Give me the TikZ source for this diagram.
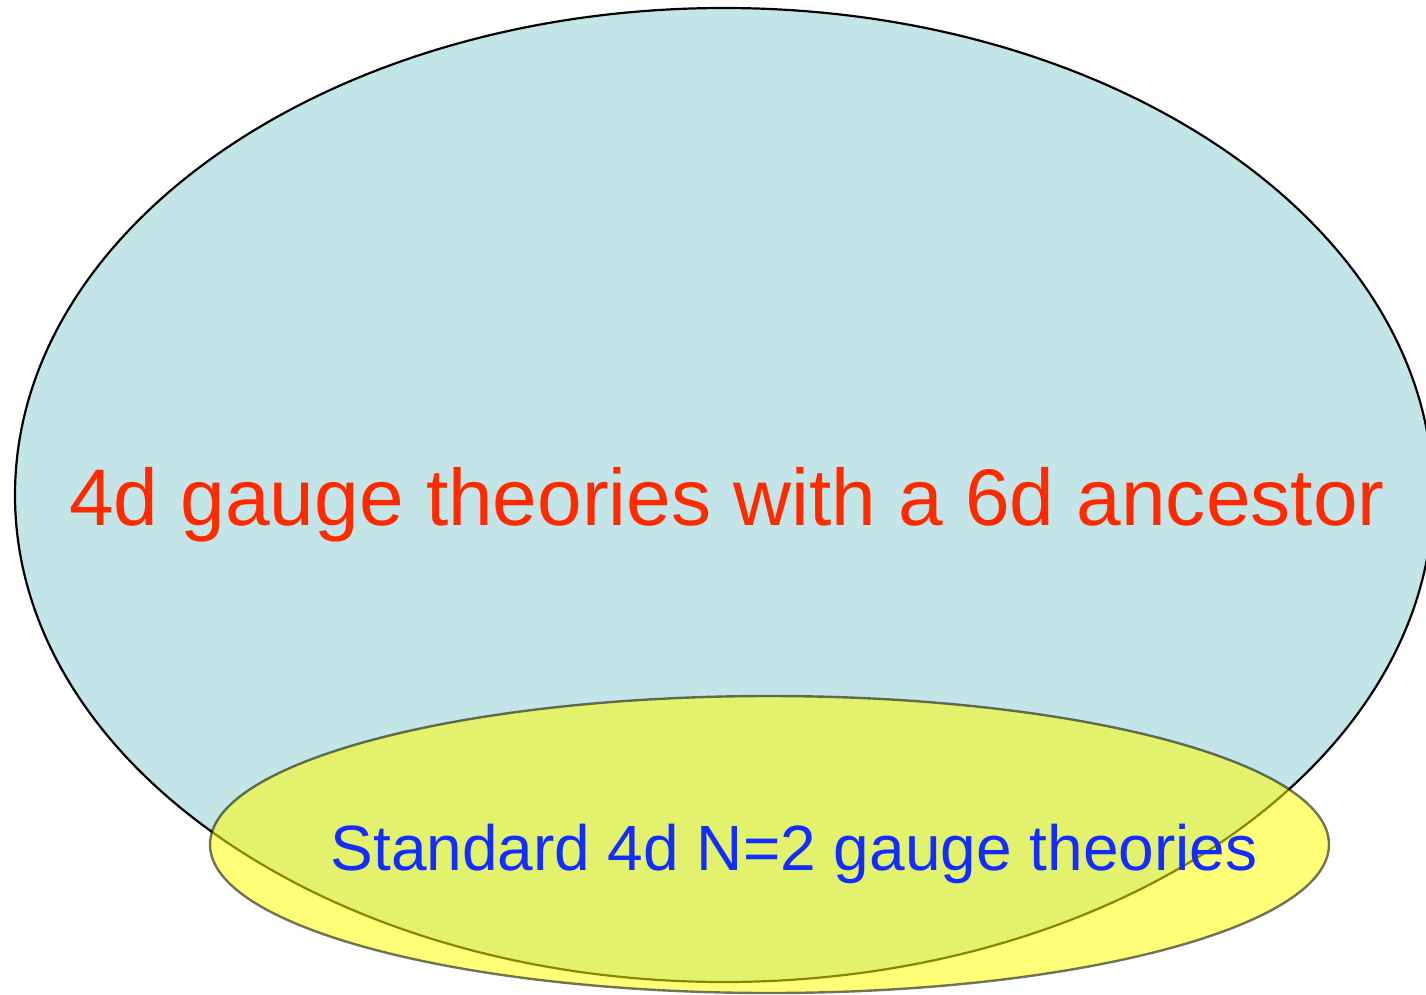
\documentclass[tikz,border=0pt]{standalone}
\usepackage{fontspec}
\setmainfont{Liberation Sans}
\begin{document}
\begin{tikzpicture}[x=1pt,y=-1pt,
  bigset/.style={draw=black,line width=2.2pt,fill={rgb,255:red,196;green,229;blue,232}},
  smallset/.style={draw=black,draw opacity=0.55,line width=2.4pt,fill={rgb,255:red,255;green,255;blue,0},fill opacity=0.53},
  redlab/.style={text={rgb,255:red,255;green,42;blue,0},font=\fontsize{80.2}{96}\selectfont,anchor=base,inner sep=0pt},
  bluelab/.style={text={rgb,255:red,20;green,45;blue,255},font=\fontsize{64}{76}\selectfont,anchor=base,inner sep=0pt}]
\useasboundingbox (0,0) rectangle (1426,994);
\draw[bigset] (724,495) ellipse [x radius=709, y radius=487];
\node[redlab] (big) at (727,525) {4d gauge theories with a 6d ancestor};
\draw[smallset] (769.5,844.5) ellipse [x radius=559.5, y radius=148.5];
\node[bluelab] (small) at (794,870) {Standard 4d N=2 gauge theories};
\end{tikzpicture}
\end{document}
